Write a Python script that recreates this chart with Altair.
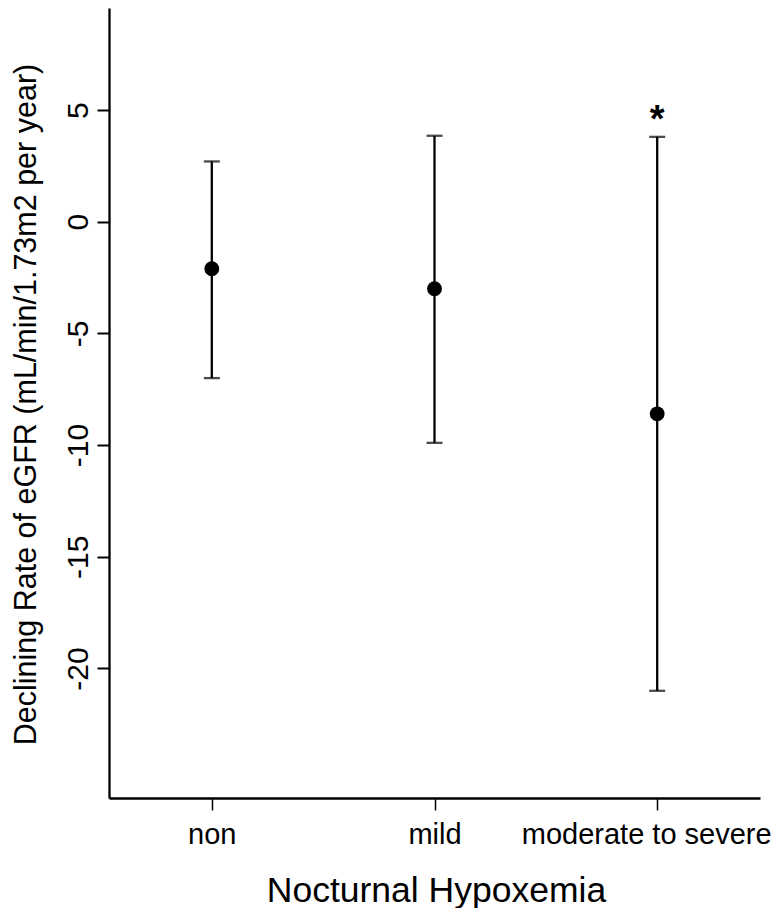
import altair as alt
import pandas as pd

categories = ["non", "mild", "moderate to severe"]
means = [-2.1, -3.0, -8.6]
lower = [-7.0, -9.9, -21.0]
upper = [2.7, 3.85, 3.8]
sig_marks = ["", "", "*"]
sig_y = [4.5, 4.5, 4.5]
y_ticks = [5, 0, -5, -10, -15, -20]

df = pd.DataFrame({"cat": categories, "mean": means, "lo": lower, "hi": upper,
                   "sig": sig_marks, "sy": sig_y})

FONT = "Liberation Sans"

x_enc = alt.X("cat:N", sort=categories,
              scale=alt.Scale(type="point", padding=0.4616),
              axis=alt.Axis(title="Nocturnal Hypoxemia", labelAngle=0, labelFontSize=29,
                            labelFont=FONT, labelColor="black", labelPadding=10,
                            labelLimit=500, labelOverlap=False,
                            labelOffset={"condition": {"test": "datum.label == 'moderate to severe'",
                                                       "value": -11}, "value": 0},
                            tickSize=12, tickWidth=1.5, tickColor="black",
                            domainColor="black", domainWidth=2.3,
                            titleFont=FONT, titleFontSize=35.5, titleFontWeight="normal",
                            titleColor="black", titleX=327, titleY=103,
                            titleBaseline="alphabetic", titleAlign="center", titleAngle=0))

y_scale = alt.Scale(domain=[-25.8, 9.57], nice=False, zero=False)
y_axis = alt.Axis(title="Declining Rate of eGFR (mL/min/1.73m2 per year)", values=y_ticks,
                  labelExpr="datum.value < 0 ? '-' + abs(datum.value) : '' + datum.value",
                  grid=False, labelAngle=270, labelAlign="center", labelBaseline="bottom",
                  labelFontSize=30, labelFont=FONT, labelColor="black", labelPadding=4,
                  tickSize=12, tickWidth=2, tickColor="black",
                  domainColor="black", domainWidth=2.3,
                  titleFont=FONT, titleFontSize=30.5, titleFontWeight="normal",
                  titleColor="black", titleAngle=270, titleX=-74, titleY=396,
                  titleBaseline="alphabetic", titleAlign="center")

base = alt.Chart(df)

bars = base.mark_rule(color="black", strokeWidth=2.3).encode(
    x=x_enc,
    y=alt.Y("lo:Q", scale=y_scale, axis=y_axis),
    y2="hi:Q",
)
cap_lo = base.mark_tick(color="black", size=16, thickness=2.3).encode(
    x=alt.X("cat:N", sort=categories), y=alt.Y("lo:Q"))
cap_hi = base.mark_tick(color="black", size=16, thickness=2.3).encode(
    x=alt.X("cat:N", sort=categories), y=alt.Y("hi:Q"))
pts = base.mark_point(filled=True, color="black", size=220, opacity=1).encode(
    x=alt.X("cat:N", sort=categories), y=alt.Y("mean:Q"))
stars = base.mark_text(font=FONT, fontSize=38, fontWeight="bold", color="black",
                       baseline="middle", align="center").encode(
    x=alt.X("cat:N", sort=categories), y=alt.Y("sy:Q"), text="sig:N")

chart = alt.layer(bars, cap_lo, cap_hi, pts, stars).properties(
    width=651, height=790,
    autosize=alt.AutoSizeParams(type="none"),
    padding={"left": 101, "top": 0, "right": 15, "bottom": 110},
).configure(background="white", view=alt.ViewConfig(stroke=None))

chart.save("out.html", embed_options={"renderer": "svg", "actions": False})
